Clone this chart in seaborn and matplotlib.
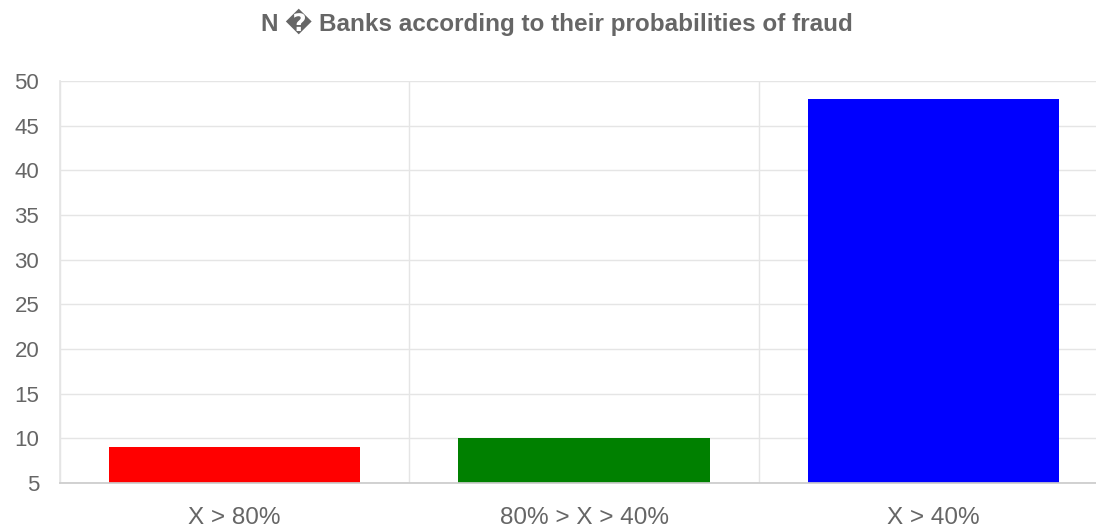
import matplotlib
matplotlib.use("Agg")
import matplotlib.pyplot as plt
import seaborn as sns
import pandas as pd
from matplotlib.ticker import FixedLocator

categories = ["X > 80%", "80% > X > 40%", "X > 40%"]
values = [9, 10, 48]
colors = ["#ff0000", "#008000", "#0000ff"]
yticks = [5, 10, 15, 20, 25, 30, 35, 40, 45, 50]
title = "N \ufffd Banks according to their probabilities of fraud"

sns.set_theme(style="white")
plt.rcParams["font.family"] = ["Liberation Sans", "DejaVu Sans"]

W, H = 1096, 529
fig = plt.figure(figsize=(W / 100, H / 100), dpi=100)
left, right, top, bottom = 60, 1108, 81, 483
ax = fig.add_axes([left / W, (H - bottom) / H, (right - left) / W, (bottom - top) / H])

df = pd.DataFrame({"cat": categories, "val": values})
sns.barplot(data=df, x="cat", y="val", hue="cat", palette=colors, width=0.72,
            legend=False, ax=ax, saturation=1, linewidth=0)

ax.set_ylim(5, 50)
ax.set_xlim(-0.5, 2.5)
ax.set_yticks(yticks)
ax.set_xlabel("")
ax.set_ylabel("")

grid_c = "#e5e5e5"
text_c = "#666666"
ax.set_axisbelow(True)
ax.yaxis.grid(True, color=grid_c, linewidth=1)
ax.xaxis.set_minor_locator(FixedLocator([-0.5, 0.5, 1.5, 2.5]))
ax.xaxis.grid(True, which="minor", color=grid_c, linewidth=1)
ax.tick_params(axis="x", which="major", length=0, pad=17, labelsize=17.5, labelcolor=text_c)
ax.tick_params(axis="x", which="minor", length=14, color=grid_c, width=1)
ax.tick_params(axis="y", length=13, color=grid_c, width=1, pad=2, labelsize=16, labelcolor=text_c)

for s in ["top", "right"]:
    ax.spines[s].set_visible(False)
ax.spines["left"].set_color(grid_c)
ax.spines["bottom"].set_color("#cccccc")

fig.text(557 / W, 1 - 22 / H, title, ha="center", va="center", fontsize=17.5,
         fontweight="bold", color=text_c)

fig.savefig("out.png", dpi=100)
